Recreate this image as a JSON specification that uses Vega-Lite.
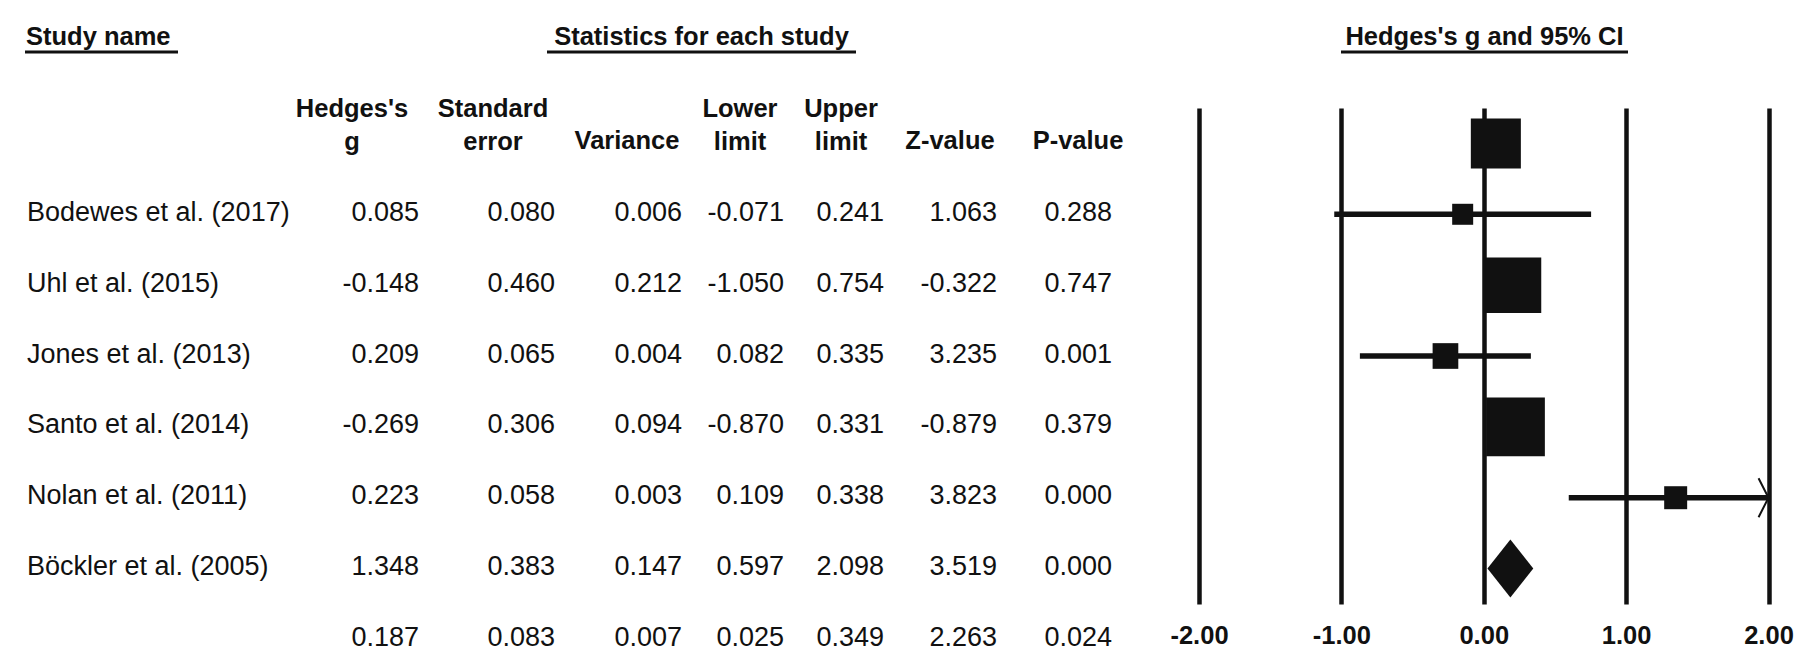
{
  "$schema": "https://vega.github.io/schema/vega-lite/v6.json",
  "background": "white",
  "padding": {"left": 23, "top": 12, "right": 0, "bottom": 0},
  "config": {
    "font": "Liberation Sans",
    "view": {"stroke": null},
    "concat": {"spacing": 0},
    "locale": {"number": {"decimal": ".", "thousands": ",", "grouping": [3], "currency": ["$", ""], "minus": "-"}}
  },
  "datasets": {
    "studies": [
      {"study": "Bodewes et al. (2017)", "type": "study", "g": 0.085, "se": 0.080, "variance": 0.006, "lower": -0.071, "upper": 0.241, "z": 1.063, "p": 0.288},
      {"study": "Uhl et al. (2015)", "type": "study", "g": -0.148, "se": 0.460, "variance": 0.212, "lower": -1.050, "upper": 0.754, "z": -0.322, "p": 0.747},
      {"study": "Jones et al. (2013)", "type": "study", "g": 0.209, "se": 0.065, "variance": 0.004, "lower": 0.082, "upper": 0.335, "z": 3.235, "p": 0.001},
      {"study": "Santo et al. (2014)", "type": "study", "g": -0.269, "se": 0.306, "variance": 0.094, "lower": -0.870, "upper": 0.331, "z": -0.879, "p": 0.379},
      {"study": "Nolan et al. (2011)", "type": "study", "g": 0.223, "se": 0.058, "variance": 0.003, "lower": 0.109, "upper": 0.338, "z": 3.823, "p": 0.000},
      {"study": "Böckler et al. (2005)", "type": "study", "g": 1.348, "se": 0.383, "variance": 0.147, "lower": 0.597, "upper": 2.098, "z": 3.519, "p": 0.000},
      {"study": "Summary", "type": "summary", "g": 0.187, "se": 0.083, "variance": 0.007, "lower": 0.025, "upper": 0.349, "z": 2.263, "p": 0.024}
    ],
    "columns": [
      {"key": "g", "header": "Hedges's\ng"},
      {"key": "se", "header": "Standard\nerror"},
      {"key": "variance", "header": "Variance"},
      {"key": "lower", "header": "Lower\nlimit"},
      {"key": "upper", "header": "Upper\nlimit"},
      {"key": "z", "header": "Z-value"},
      {"key": "p", "header": "P-value"}
    ],
    "titles": [
      {"key": "study", "text": "Study name"},
      {"key": "stats", "text": "Statistics for each study"},
      {"key": "forest", "text": "Hedges's g and 95% CI"}
    ]
  },
  "spacing": 0,
  "bounds": "full",
  "vconcat": [
    {
      "spacing": 0,
      "bounds": "flush",
      "hconcat": [
        {
          "width": 153, "height": 40,
          "data": {"name": "titles"},
          "transform": [{"filter": "datum.key === 'study'"}],
          "layer": [
            {"mark": {"type": "text", "align": "left", "baseline": "alphabetic", "dx": 1, "dy": -7, "fontSize": 25.5, "fontWeight": "bold", "color": "#111"},
             "encoding": {"x": {"value": 0}, "y": {"value": "height"}, "text": {"field": "text"}}},
            {"mark": {"type": "rule", "strokeWidth": 3, "color": "#111"},
             "encoding": {"y": {"value": "height"}}}
          ]
        },
        {"width": 369, "height": 40, "data": {"values": []}, "mark": "point"},
        {
          "width": 309, "height": 40,
          "data": {"name": "titles"},
          "transform": [{"filter": "datum.key === 'stats'"}],
          "layer": [
            {"mark": {"type": "text", "align": "center", "baseline": "alphabetic", "dy": -7, "fontSize": 25.5, "fontWeight": "bold", "color": "#111"},
             "encoding": {"y": {"value": "height"}, "text": {"field": "text"}}},
            {"mark": {"type": "rule", "strokeWidth": 3, "color": "#111"},
             "encoding": {"y": {"value": "height"}}}
          ]
        },
        {"width": 485, "height": 40, "data": {"values": []}, "mark": "point"},
        {
          "width": 287, "height": 40,
          "data": {"name": "titles"},
          "transform": [{"filter": "datum.key === 'forest'"}],
          "layer": [
            {"mark": {"type": "text", "align": "center", "baseline": "alphabetic", "dy": -7, "fontSize": 25.5, "fontWeight": "bold", "color": "#111"},
             "encoding": {"y": {"value": "height"}, "text": {"field": "text"}}},
            {"mark": {"type": "rule", "strokeWidth": 3, "color": "#111"},
             "encoding": {"y": {"value": "height"}}}
          ]
        }
      ]
    },
    {
      "spacing": 0,
      "bounds": "flush",
      "hconcat": [
        {
          "width": 153, "height": 595,
          "data": {"name": "studies"},
          "transform": [{"filter": "datum.type === 'study'"}],
          "mark": {"type": "text", "align": "left", "baseline": "middle", "dx": 2, "dy": 4.5, "fontSize": 27, "color": "#111"},
          "encoding": {
            "x": {"value": 0},
            "y": {"field": "study", "type": "nominal", "axis": null,
                  "scale": {"type": "point", "domain": ["hdr", "Bodewes et al. (2017)", "Uhl et al. (2015)", "Jones et al. (2013)", "Santo et al. (2014)", "Nolan et al. (2011)", "Böckler et al. (2005)", "Summary"], "padding": 0.699, "align": 0.843}},
            "text": {"field": "study"}
          }
        },
        {
          "width": 241, "height": 595,
          "layer": [
            {"data": {"name": "columns"}, "transform": [{"filter": "datum.key === 'g'"}],
             "mark": {"type": "text", "align": "center", "baseline": "bottom", "lineBreak": "\n", "lineHeight": 33, "dx": -67, "dy": -15.5, "fontSize": 25.5, "fontWeight": "bold", "color": "#111"},
             "encoding": {"x": {"value": "width"}, "y": {"datum": "hdr", "type": "nominal", "axis": null, "scale": {"type": "point", "domain": ["hdr", "Bodewes et al. (2017)", "Uhl et al. (2015)", "Jones et al. (2013)", "Santo et al. (2014)", "Nolan et al. (2011)", "Böckler et al. (2005)", "Summary"], "padding": 0.699, "align": 0.843}}, "text": {"field": "header"}}},
            {"data": {"name": "studies"},
             "mark": {"type": "text", "align": "right", "baseline": "middle", "dy": 4.5, "fontSize": 27, "color": "#111"},
             "encoding": {"x": {"value": "width"}, "y": {"field": "study", "type": "nominal", "axis": null}, "text": {"field": "g", "type": "quantitative", "format": ".3f"}}}
          ]
        },
        {
          "width": 136, "height": 595,
          "layer": [
            {"data": {"name": "columns"}, "transform": [{"filter": "datum.key === 'se'"}],
             "mark": {"type": "text", "align": "center", "baseline": "bottom", "lineBreak": "\n", "lineHeight": 33, "dx": -62, "dy": -15.5, "fontSize": 25.5, "fontWeight": "bold", "color": "#111"},
             "encoding": {"x": {"value": "width"}, "y": {"datum": "hdr", "type": "nominal", "axis": null, "scale": {"type": "point", "domain": ["hdr", "Bodewes et al. (2017)", "Uhl et al. (2015)", "Jones et al. (2013)", "Santo et al. (2014)", "Nolan et al. (2011)", "Böckler et al. (2005)", "Summary"], "padding": 0.699, "align": 0.843}}, "text": {"field": "header"}}},
            {"data": {"name": "studies"},
             "mark": {"type": "text", "align": "right", "baseline": "middle", "dy": 4.5, "fontSize": 27, "color": "#111"},
             "encoding": {"x": {"value": "width"}, "y": {"field": "study", "type": "nominal", "axis": null}, "text": {"field": "se", "type": "quantitative", "format": ".3f"}}}
          ]
        },
        {
          "width": 127, "height": 595,
          "layer": [
            {"data": {"name": "columns"}, "transform": [{"filter": "datum.key === 'variance'"}],
             "mark": {"type": "text", "align": "center", "baseline": "bottom", "lineBreak": "\n", "lineHeight": 33, "dx": -55, "dy": 17, "fontSize": 25.5, "fontWeight": "bold", "color": "#111"},
             "encoding": {"x": {"value": "width"}, "y": {"datum": "hdr", "type": "nominal", "axis": null, "scale": {"type": "point", "domain": ["hdr", "Bodewes et al. (2017)", "Uhl et al. (2015)", "Jones et al. (2013)", "Santo et al. (2014)", "Nolan et al. (2011)", "Böckler et al. (2005)", "Summary"], "padding": 0.699, "align": 0.843}}, "text": {"field": "header"}}},
            {"data": {"name": "studies"},
             "mark": {"type": "text", "align": "right", "baseline": "middle", "dy": 4.5, "fontSize": 27, "color": "#111"},
             "encoding": {"x": {"value": "width"}, "y": {"field": "study", "type": "nominal", "axis": null}, "text": {"field": "variance", "type": "quantitative", "format": ".3f"}}}
          ]
        },
        {
          "width": 102, "height": 595,
          "layer": [
            {"data": {"name": "columns"}, "transform": [{"filter": "datum.key === 'lower'"}],
             "mark": {"type": "text", "align": "center", "baseline": "bottom", "lineBreak": "\n", "lineHeight": 33, "dx": -44, "dy": -15.5, "fontSize": 25.5, "fontWeight": "bold", "color": "#111"},
             "encoding": {"x": {"value": "width"}, "y": {"datum": "hdr", "type": "nominal", "axis": null, "scale": {"type": "point", "domain": ["hdr", "Bodewes et al. (2017)", "Uhl et al. (2015)", "Jones et al. (2013)", "Santo et al. (2014)", "Nolan et al. (2011)", "Böckler et al. (2005)", "Summary"], "padding": 0.699, "align": 0.843}}, "text": {"field": "header"}}},
            {"data": {"name": "studies"},
             "mark": {"type": "text", "align": "right", "baseline": "middle", "dy": 4.5, "fontSize": 27, "color": "#111"},
             "encoding": {"x": {"value": "width"}, "y": {"field": "study", "type": "nominal", "axis": null}, "text": {"field": "lower", "type": "quantitative", "format": ".3f"}}}
          ]
        },
        {
          "width": 100, "height": 595,
          "layer": [
            {"data": {"name": "columns"}, "transform": [{"filter": "datum.key === 'upper'"}],
             "mark": {"type": "text", "align": "center", "baseline": "bottom", "lineBreak": "\n", "lineHeight": 33, "dx": -43, "dy": -15.5, "fontSize": 25.5, "fontWeight": "bold", "color": "#111"},
             "encoding": {"x": {"value": "width"}, "y": {"datum": "hdr", "type": "nominal", "axis": null, "scale": {"type": "point", "domain": ["hdr", "Bodewes et al. (2017)", "Uhl et al. (2015)", "Jones et al. (2013)", "Santo et al. (2014)", "Nolan et al. (2011)", "Böckler et al. (2005)", "Summary"], "padding": 0.699, "align": 0.843}}, "text": {"field": "header"}}},
            {"data": {"name": "studies"},
             "mark": {"type": "text", "align": "right", "baseline": "middle", "dy": 4.5, "fontSize": 27, "color": "#111"},
             "encoding": {"x": {"value": "width"}, "y": {"field": "study", "type": "nominal", "axis": null}, "text": {"field": "upper", "type": "quantitative", "format": ".3f"}}}
          ]
        },
        {
          "width": 113, "height": 595,
          "layer": [
            {"data": {"name": "columns"}, "transform": [{"filter": "datum.key === 'z'"}],
             "mark": {"type": "text", "align": "center", "baseline": "bottom", "lineBreak": "\n", "lineHeight": 33, "dx": -47, "dy": 17, "fontSize": 25.5, "fontWeight": "bold", "color": "#111"},
             "encoding": {"x": {"value": "width"}, "y": {"datum": "hdr", "type": "nominal", "axis": null, "scale": {"type": "point", "domain": ["hdr", "Bodewes et al. (2017)", "Uhl et al. (2015)", "Jones et al. (2013)", "Santo et al. (2014)", "Nolan et al. (2011)", "Böckler et al. (2005)", "Summary"], "padding": 0.699, "align": 0.843}}, "text": {"field": "header"}}},
            {"data": {"name": "studies"},
             "mark": {"type": "text", "align": "right", "baseline": "middle", "dy": 4.5, "fontSize": 27, "color": "#111"},
             "encoding": {"x": {"value": "width"}, "y": {"field": "study", "type": "nominal", "axis": null}, "text": {"field": "z", "type": "quantitative", "format": ".3f"}}}
          ]
        },
        {
          "width": 115, "height": 595,
          "layer": [
            {"data": {"name": "columns"}, "transform": [{"filter": "datum.key === 'p'"}],
             "mark": {"type": "text", "align": "center", "baseline": "bottom", "lineBreak": "\n", "lineHeight": 33, "dx": -34, "dy": 17, "fontSize": 25.5, "fontWeight": "bold", "color": "#111"},
             "encoding": {"x": {"value": "width"}, "y": {"datum": "hdr", "type": "nominal", "axis": null, "scale": {"type": "point", "domain": ["hdr", "Bodewes et al. (2017)", "Uhl et al. (2015)", "Jones et al. (2013)", "Santo et al. (2014)", "Nolan et al. (2011)", "Böckler et al. (2005)", "Summary"], "padding": 0.699, "align": 0.843}}, "text": {"field": "header"}}},
            {"data": {"name": "studies"},
             "mark": {"type": "text", "align": "right", "baseline": "middle", "dy": 4.5, "fontSize": 27, "color": "#111"},
             "encoding": {"x": {"value": "width"}, "y": {"field": "study", "type": "nominal", "axis": null}, "text": {"field": "p", "type": "quantitative", "format": ".3f"}}}
          ]
        },
        {"width": 87, "height": 595, "data": {"values": []}, "mark": "point"},
        {
          "spacing": 0,
          "bounds": "flush",
          "vconcat": [
            {"width": 569.5, "height": 54, "data": {"values": []}, "mark": "point"},
            {
              "width": 569.5, "height": 496,
              "data": {"name": "studies"},
              "encoding": {
                "y": {"field": "study", "type": "nominal", "axis": null,
                      "scale": {"type": "point", "domain": ["Bodewes et al. (2017)", "Uhl et al. (2015)", "Jones et al. (2013)", "Santo et al. (2014)", "Nolan et al. (2011)", "Böckler et al. (2005)", "Summary"], "padding": 0.5}}
              },
              "layer": [
                {
                  "transform": [{"filter": "datum.type === 'study'"}],
                  "mark": {"type": "rule", "strokeWidth": 5.5, "color": "#111"},
                  "encoding": {
                    "x": {"field": "lower", "type": "quantitative",
                          "scale": {"domain": [-2, 2], "nice": false, "zero": false, "clamp": true},
                          "axis": {"values": [-2, -1, 0, 1, 2], "format": ".2f", "title": null, "grid": true, "gridColor": "#111", "gridWidth": 4.5, "gridOpacity": 1, "domain": false, "ticks": false, "tickSize": 0, "labelFontSize": 25.5, "labelFontWeight": "bold", "labelColor": "#111", "labelBaseline": "middle", "labelPadding": 31, "labelFlush": false, "labelOverlap": false}},
                    "x2": {"field": "upper"}
                  }
                },
                {
                  "transform": [{"filter": "datum.type === 'study'"}],
                  "mark": {"type": "point", "shape": "square", "filled": true, "opacity": 1, "strokeWidth": 0, "color": "#111"},
                  "encoding": {
                    "x": {"field": "g", "type": "quantitative"},
                    "size": {"field": "se", "type": "quantitative", "legend": null,
                             "scale": {"type": "pow", "exponent": -1, "domain": [0.058, 0.46], "range": [3450, 441]}}
                  }
                },
                {
                  "transform": [{"filter": "datum.upper > 2"}],
                  "mark": {"type": "point", "shape": "M-0.51,-1L0,0L-0.51,1", "filled": false, "opacity": 1, "size": 1521, "strokeWidth": 2, "color": "#111"},
                  "encoding": {"x": {"field": "upper", "type": "quantitative"}}
                },
                {
                  "transform": [{"filter": "datum.type === 'summary'"}],
                  "mark": {"type": "point", "shape": "M0,-1L0.79,0L0,1L-0.79,0Z", "filled": true, "opacity": 1, "size": 3364, "strokeWidth": 0, "color": "#111"},
                  "encoding": {"x": {"field": "g", "type": "quantitative"}}
                }
              ]
            }
          ]
        }
      ]
    }
  ]
}
